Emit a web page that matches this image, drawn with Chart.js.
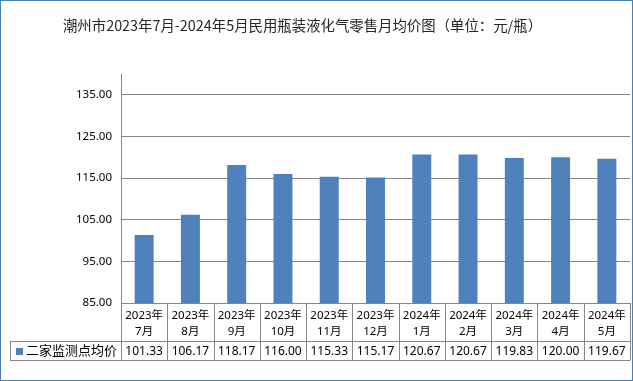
<!DOCTYPE html>
<html>
<head>
<meta charset="utf-8">
<script src="https://cdn.jsdelivr.net/npm/chart.js@4/dist/chart.umd.min.js"></script>
<style>
  html, body { margin: 0; padding: 0; background: #fff; }
  #wrap { position: relative; width: 633px; height: 381px; }
</style>
</head>
<body>
<div id="wrap"><canvas id="c" width="633" height="381"></canvas></div>
<script>
const titleText = '潮州市2023年7月-2024年5月民用瓶装液化气零售月均价图（单位：元/瓶）';
const seriesName = '二家监测点均价';
const years = ['2023年','2023年','2023年','2023年','2023年','2023年','2024年','2024年','2024年','2024年','2024年'];
const months = ['7月','8月','9月','10月','11月','12月','1月','2月','3月','4月','5月'];
const prices = [101.33, 106.17, 118.17, 116.00, 115.33, 115.17, 120.67, 120.67, 119.83, 120.00, 119.67];
const yTicks = [85, 95, 105, 115, 125, 135];

const labels = years.map((y, i) => [y, months[i]]);
const FONT = "'Noto Sans', 'Noto Sans CJK SC', sans-serif";
const GRID = '#868686';
const BLUE = '#4F81BD';

const tablePlugin = {
  id: 'tablePlugin',
  afterDraw(chart) {
    const ctx = chart.ctx;
    const x = chart.scales.x;
    const area = chart.chartArea;
    const n = prices.length;
    const w = (x.right - x.left) / n;
    const headTop = area.bottom;
    const headBottom = x.bottom;
    const rowBottom = headBottom + 19;
    const legLeft = 10;
    ctx.save();
    ctx.strokeStyle = GRID;
    ctx.lineWidth = 1;
    ctx.beginPath();
    ctx.moveTo(x.left, Math.round(headTop) + 0.5); ctx.lineTo(x.right, Math.round(headTop) + 0.5);
    ctx.moveTo(legLeft, Math.round(headBottom) + 0.5); ctx.lineTo(x.right, Math.round(headBottom) + 0.5);
    ctx.moveTo(legLeft, Math.round(rowBottom) + 0.5); ctx.lineTo(x.right, Math.round(rowBottom) + 0.5);
    for (let i = 0; i <= n; i++) {
      const px = Math.round(x.getPixelForValue(i) - w / 2) + 0.5;
      ctx.moveTo(px, headTop); ctx.lineTo(px, rowBottom + 0.5);
    }
    ctx.moveTo(legLeft + 0.5, headBottom); ctx.lineTo(legLeft + 0.5, rowBottom + 0.5);
    ctx.stroke();
    ctx.fillStyle = '#000';
    ctx.font = "12px " + FONT;
    ctx.textAlign = 'center';
    ctx.textBaseline = 'middle';
    const midY = (headBottom + rowBottom) / 2 + 1;
    prices.forEach((v, i) => {
      ctx.fillText(v.toFixed(2), x.getPixelForValue(i), midY);
    });
    ctx.fillStyle = BLUE;
    ctx.fillRect(16, Math.round(midY) - 4, 7, 7);
    ctx.fillStyle = '#000';
    ctx.textAlign = 'left';
    ctx.font = "13px " + FONT;
    ctx.fillText(seriesName, 26, midY);
    ctx.font = "14.4px 'Noto Sans CJK SC', sans-serif";
    ctx.textAlign = 'center';
    ctx.fillStyle = '#262626';
    ctx.fillText(titleText, 302.5, 26);
    ctx.strokeStyle = '#4A7EBB';
    ctx.strokeRect(0.5, 0.5, chart.width - 1, chart.height - 1);
    ctx.restore();
  }
};

new Chart(document.getElementById('c'), {
  type: 'bar',
  data: {
    labels: labels,
    datasets: [{
      label: seriesName,
      data: prices,
      backgroundColor: BLUE,
      borderWidth: 0,
      categoryPercentage: 1,
      barPercentage: 0.41
    }]
  },
  options: {
    responsive: false,
    animation: false,
    devicePixelRatio: 1,
    layout: { padding: { left: 0, right: 3, top: 74, bottom: 40 } },
    plugins: { legend: { display: false }, tooltip: { enabled: false }, title: { display: false } },
    scales: {
      x: {
        offset: true,
        grid: { display: false, drawTicks: false },
        border: { display: false },
        ticks: { color: '#000', font: { family: FONT, size: 11.5, lineHeight: 1.35 }, padding: 5, maxRotation: 0, autoSkip: false },
        afterFit(scale) { scale.height = 38; }
      },
      y: {
        min: 85,
        max: 140,
        afterBuildTicks(scale) { scale.ticks = yTicks.map(v => ({ value: v })); },
        grid: { color: GRID, drawTicks: false, tickLength: 0 },
        border: { display: true, color: GRID },
        ticks: { color: '#000', font: { family: FONT, size: 11.5 }, padding: 9, callback: v => Number(v).toFixed(2) },
        afterFit(scale) { scale.width = 121; }
      }
    }
  },
  plugins: [tablePlugin]
});
</script>
</body>
</html>
